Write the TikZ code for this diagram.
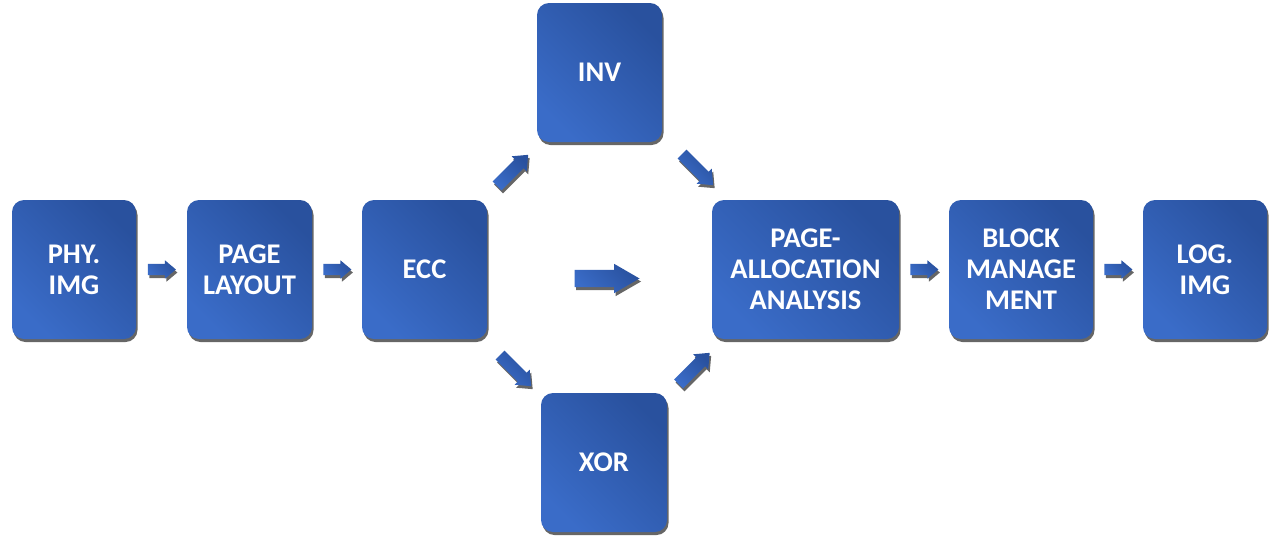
\documentclass[tikz,border=0pt]{standalone}
\usepackage{fontspec}
\setmainfont{Carlito}
\usetikzlibrary{shapes.arrows,shadows,calc}
\definecolor{bxlight}{HTML}{3A6CC8}
\definecolor{bxdark}{HTML}{29519E}
\tikzset{
  shad/.style={drop shadow={shadow xshift=1.5pt, shadow yshift=-3pt, opacity=0.6, fill=black}},
  box/.style={rounded corners=12pt, top color=bxdark, bottom color=bxlight, shading angle=-45,
    draw=none, text=white, font=\bfseries\fontsize{28.5}{31}\selectfont, align=center,
    inner sep=0pt, minimum height=139pt, shad},
  barrow/.style={single arrow, draw=none, top color=bxdark, bottom color=bxlight, shading angle=-45,
    inner xsep=0pt, shad},
  smallarrow/.style={barrow, inner ysep=5.5pt, minimum height=28pt, minimum width=18pt,
    single arrow head extend=3.5pt, single arrow tip angle=80},
  diagarrow/.style={barrow, inner ysep=6pt, minimum height=44pt, minimum width=21pt,
    single arrow head extend=4.5pt, single arrow tip angle=80},
  bigarrow/.style={barrow, inner ysep=8.5pt, minimum height=65pt, minimum width=29pt,
    single arrow head extend=6pt, single arrow tip angle=60},
}
\begin{document}
\begin{tikzpicture}[x=1pt,y=-1pt]
\useasboundingbox (0,0) rectangle (1280,555);
\node[box, minimum width=124pt] (phy) at (74,269.5) {PHY.\\IMG};
\node[box, minimum width=125pt] (layout) at (249.5,269.5) {PAGE\\LAYOUT};
\node[box, minimum width=125pt] (ecc) at (424.5,269.5) {ECC};
\node[box, minimum width=125pt] (inv) at (599.5,72.5) {INV};
\node[box, minimum width=126pt] (xor) at (604,462.5) {XOR};
\node[box, minimum width=187pt] (page) at (805.5,269.5) {PAGE-\\ALLOCATION\\ANALYSIS};
\node[box, minimum width=144pt] (block) at (1021,269.5) {BLOCK\\MANAGE\\MENT};
\node[box, minimum width=124pt] (log) at (1205,269.5) {LOG.\\IMG};
\node[smallarrow] (a1) at ($(phy.east)!0.5!(layout.west)+(-3,0)$) {};
\node[smallarrow] (a2) at ($(layout.east)!0.5!(ecc.west)+(-3,0)$) {};
\node[smallarrow] (a3) at ($(page.east)!0.5!(block.west)+(-3,0)$) {};
\node[smallarrow] (a4) at ($(block.east)!0.5!(log.west)+(-3,0)$) {};
\node[diagarrow, rotate=45] (d1) at ($(ecc.north east)!0.5!(inv.south west)+(-2,2)$) {};
\node[diagarrow, rotate=-45] (d2) at ($(inv.south east)!0.5!(page.north west)+(8,-4)$) {};
\node[diagarrow, rotate=-45] (d3) at ($(ecc.south east)!0.5!(xor.north west)+(-1,2)$) {};
\node[diagarrow, rotate=45] (d4) at ($(xor.north east)!0.5!(page.south west)+(2,5)$) {};
\node[bigarrow] (mid) at ($(ecc.east)!0.5!(page.west)+(0,9)$) {};
\end{tikzpicture}
\end{document}
